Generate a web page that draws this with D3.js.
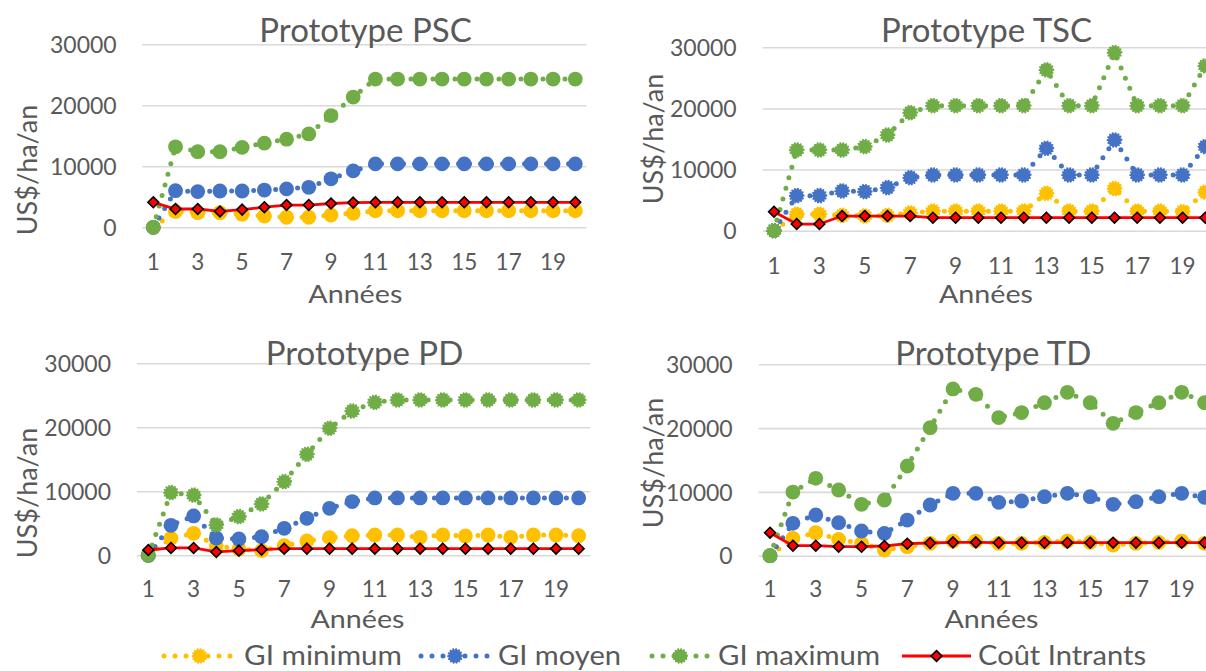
<!DOCTYPE html>
<html>
<head>
<meta charset="utf-8">
<script src="https://cdn.jsdelivr.net/npm/d3@7"></script>
<style>
html,body{margin:0;padding:0;background:#fff;}
svg{display:block;}
text{font-family:Lato,"Open Sans",sans-serif;fill:#595959;}
</style>
</head>
<body>
<svg id="chart" width="1206" height="671"></svg>
<script>
// ---------- DATA ----------
const years = [1,2,3,4,5,6,7,8,9,10,11,12,13,14,15,16,17,18,19,20];
const yTicks = [0,10000,20000,30000];
const xTickLabels = [1,3,5,7,9,11,13,15,17,19];
const seriesNames = ["GI minimum","GI moyen","GI maximum","Coût Intrants"];
const panelTitles = ["Prototype PSC","Prototype TSC","Prototype PD","Prototype TD"];

// Prototype PSC
const pscMin  = [0,2600,2400,2400,2150,1850,1650,1650,2000,2300,2700,2700,2700,2700,2700,2700,2700,2700,2700,2700];
const pscMoy  = [0,6000,5850,5950,5950,6100,6300,6550,7950,9250,10400,10400,10400,10400,10400,10400,10400,10400,10400,10400];
const pscMax  = [0,13200,12400,12400,13100,13800,14450,15300,18300,21350,24300,24300,24300,24300,24300,24300,24300,24300,24300,24300];
const pscCout = [4100,3000,3000,2600,2900,3300,3650,3650,3900,4050,4100,4100,4100,4100,4100,4100,4100,4100,4100,4100];

// Prototype TSC
const tscMin  = [0,2700,2700,2500,2400,2500,2900,3200,3200,3200,3200,3200,6100,3200,3200,6900,3200,3200,3100,6300];
const tscMoy  = [0,5730,5730,6500,6380,7040,8670,9110,9110,9110,9110,9110,13470,9110,9110,14840,9110,9110,9110,13750];
const tscMax  = [0,13200,13200,13200,13750,15650,19300,20450,20450,20450,20450,20450,26300,20450,20450,29130,20450,20450,20450,26950];
const tscCout = [3100,1090,1090,2400,2400,2400,2400,2130,2130,2130,2130,2130,2130,2130,2130,2130,2130,2130,2130,2130];

// Prototype PD
const pdMin  = [0,2650,3440,1460,1000,730,1510,2240,2760,3070,3180,3180,2810,3180,3020,3180,2810,3180,3180,3070];
const pdMoy  = [0,4690,6150,2700,2550,2900,4220,5780,7340,8390,8960,8960,8960,8960,8960,8960,8960,8960,8960,8960];
const pdMax  = [0,9800,9400,4740,6040,8020,11510,15780,19840,22550,23900,24270,24270,24270,24270,24270,24270,24270,24270,24270];
const pdCout = [830,1150,1150,520,730,890,1040,1040,1040,1040,1040,1040,1040,1040,1040,1040,1040,1040,1040,1040];

// Prototype TD
const tdMin  = [0,2720,3610,2560,1930,890,1410,1930,2300,2300,1930,1930,2090,2300,2090,1670,1930,2090,2300,1930];
const tdMoy  = [0,5070,6380,5180,3870,3500,5590,7950,9780,9780,8360,8570,9250,9780,9250,8050,8470,9250,9780,9150];
const tdMax  = [0,9980,12130,10300,8050,8730,14060,20070,26140,25300,21640,22430,23990,25610,23990,20750,22430,23990,25610,23990];
const tdCout = [3610,1570,1570,1410,1410,1520,1880,1990,2090,2090,2040,2040,2040,2040,2040,2040,2040,2040,2040,2040];

// ---------- STYLE / LAYOUT ----------
const colors = ["#FFC000","#4472C4","#70AD47","#FF0000"];
const textColor = "#595959";

const panels = [
  {title:panelTitles[0], data:[pscMin,pscMoy,pscMax,pscCout], fuzzy:[false,false,false],
   L:142.2,R:586.4,T:44.3,B:227.3, yLabR:116.7, xLabY:262.3, axTx:355.3, axTy:303.3, tx:365.5, ty:42.3, ytx:37, yty:170},
  {title:panelTitles[1], data:[tscMin,tscMoy,tscMax,tscCout], fuzzy:[true,true,true],
   L:762.65,R:1216.65,T:47.3,B:230.7, yLabR:736.7, xLabY:266, axTx:986, axTy:303.3, tx:986.5, ty:42.3, ytx:663, yty:139},
  {title:panelTitles[2], data:[pdMin,pdMoy,pdMax,pdCout], fuzzy:[false,false,true],
   L:137,R:590,T:363.3,B:555.3, yLabR:111, xLabY:589, axTx:357.5, axTy:627.5, tx:364.5, ty:365, ytx:37, yty:493},
  {title:panelTitles[3], data:[tdMin,tdMoy,tdMax,tdCout], fuzzy:[false,false,false],
   L:758.6,R:1216,T:364.3,B:555.7, yLabR:732.7, xLabY:589, axTx:991.5, axTy:627.5, tx:993.3, ty:365, ytx:663, yty:463}
];

const svg = d3.select("#chart");

function diamondPath(s){ return `M0,${-s}L${s},0L0,${s}L${-s},0Z`; }

function drawGIMarker(g, cx, cy, color, fuzzy){
  g.append("circle").attr("cx",cx).attr("cy",cy).attr("r", fuzzy?6.6:7.4).attr("fill",color);
  if(fuzzy){
    g.append("circle").attr("cx",cx).attr("cy",cy).attr("r",6.8)
      .attr("fill","none").attr("stroke",color).attr("stroke-width",2.2)
      .attr("stroke-linecap","round").attr("stroke-dasharray","0 3");
  }
}
function drawCostMarker(g, cx, cy){
  g.append("path").attr("d",diamondPath(5.4)).attr("transform",`translate(${cx},${cy})`)
    .attr("fill","#FF0000").attr("stroke","#000").attr("stroke-width",1.6).attr("stroke-linejoin","miter");
}

panels.forEach(p=>{
  const g = svg.append("g");
  const x = d3.scaleBand().domain(years).range([p.L,p.R]);
  const cx = d => x(d)+x.bandwidth()/2;
  const y = d3.scaleLinear().domain([0,30000]).range([p.B,p.T]);

  // gridlines + y labels
  const yAxis = d3.axisLeft(y).tickValues(yTicks).tickSize(-(p.R-p.L)).tickFormat(d3.format("d"));
  const ya = g.append("g").attr("transform",`translate(${p.L},0)`).call(yAxis);
  ya.select(".domain").remove();
  ya.selectAll(".tick line").attr("stroke","#D9D9D9").attr("stroke-width",1.6);
  ya.selectAll(".tick text").attr("x",-(p.L-p.yLabR)).attr("dy","0.36em")
    .style("font-size","23px").style("fill",textColor).attr("font-family","Lato");

  // x axis labels
  const xAxis = d3.axisBottom(x).tickValues(xTickLabels).tickSize(0);
  const xa = g.append("g").attr("transform",`translate(0,${p.xLabY})`).call(xAxis);
  xa.select(".domain").remove();
  xa.selectAll(".tick text").attr("y",0).attr("dy","0.36em")
    .style("font-size","22.5px").style("fill",textColor).attr("font-family","Lato");

  // series
  const sg = g.append("g");
  p.data.forEach((vals,si)=>{
    const pts = years.map((yr,i)=>[cx(yr), y(vals[i])]);
    const line = d3.line();
    if(si<3){
      sg.append("path").attr("d",line(pts)).attr("fill","none").attr("stroke",colors[si])
        .attr("stroke-width",5).attr("stroke-linecap","round").attr("stroke-dasharray","0 11");
      pts.forEach(pt=>drawGIMarker(sg, pt[0], pt[1], colors[si], p.fuzzy[si]));
    } else {
      sg.append("path").attr("d",line(pts)).attr("fill","none").attr("stroke",colors[si])
        .attr("stroke-width",2.8).attr("stroke-linejoin","round");
      pts.forEach(pt=>drawCostMarker(sg, pt[0], pt[1]));
    }
  });

  // titles
  g.append("text").attr("x",p.tx).attr("y",p.ty).attr("text-anchor","middle")
    .style("font-size","33px").text(p.title);
  g.append("text").attr("x",p.axTx).attr("y",p.axTy).attr("text-anchor","middle")
    .style("font-size","25.5px").attr("textLength",94).attr("lengthAdjust","spacingAndGlyphs").text("Années");
  g.append("text").attr("transform",`translate(${p.ytx},${p.yty}) rotate(-90)`).attr("text-anchor","middle")
    .style("font-size","27px").text("US$/ha/an");
});

// ---------- LEGEND ----------
const legendItems = [
  {name:seriesNames[0], color:colors[0], s0:164, s1:235, text:244, w:158},
  {name:seriesNames[1], color:colors[1], s0:421, s1:489, text:498, w:123},
  {name:seriesNames[2], color:colors[2], s0:652, s1:708, text:718, w:162},
  {name:seriesNames[3], color:colors[3], s0:902, s1:971, text:978, w:168}
];
const lg = svg.append("g");
const ly = 656;
legendItems.forEach((it,i)=>{
  const mid = (it.s0+it.s1)/2;
  if(i<3){
    lg.append("path").attr("d",`M${it.s0},${ly}L${it.s1},${ly}`).attr("stroke",it.color)
      .attr("stroke-width",5).attr("stroke-linecap","round").attr("stroke-dasharray","0 11");
    drawGIMarker(lg, mid, ly, it.color, true);
  } else {
    lg.append("path").attr("d",`M${it.s0},${ly}L${it.s1},${ly}`).attr("stroke",it.color).attr("stroke-width",2.8);
    drawCostMarker(lg, mid, ly);
  }
  lg.append("text").attr("x",it.text).attr("y",ly).attr("dy","0.34em").style("font-size","26px")
    .attr("textLength",it.w).attr("lengthAdjust","spacingAndGlyphs").text(it.name);
});
</script>
</body>
</html>
